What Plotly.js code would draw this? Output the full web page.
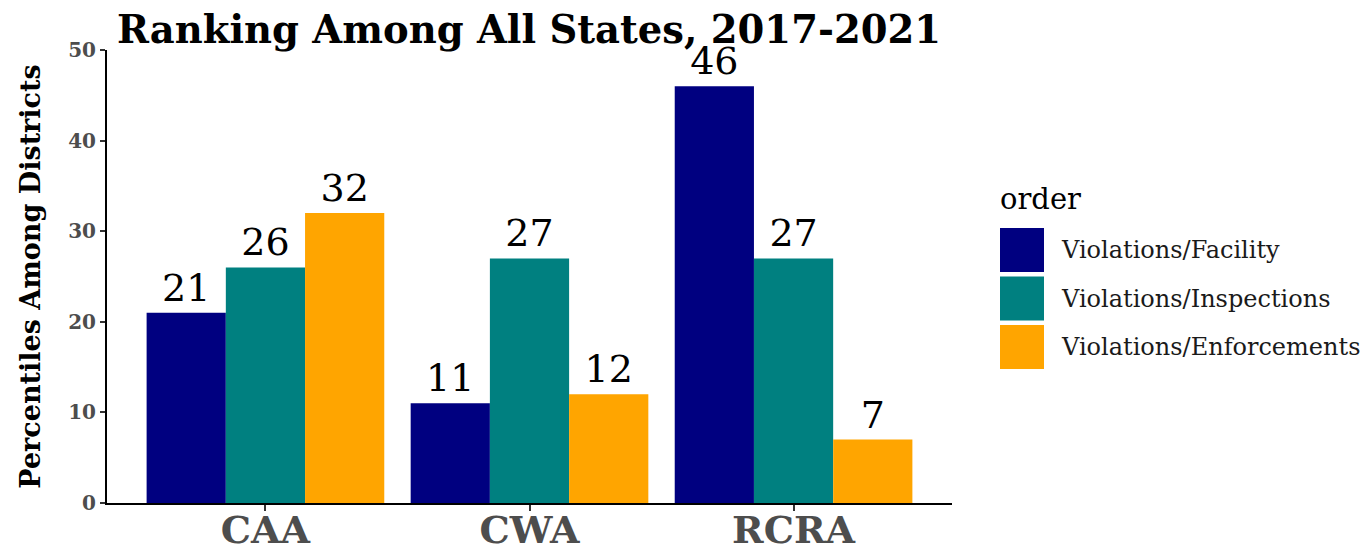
<!DOCTYPE html>
<html>
<head>
<meta charset="utf-8">
<script src="https://cdn.plot.ly/plotly-3.0.1.min.js"></script>
<style>body{margin:0;padding:0;background:#fff;} #chart{width:1369px;height:546px;}</style>
</head>
<body>
<div id="chart"></div>
<script>
const categories = ["CAA", "CWA", "RCRA"];
const seriesNames = ["Violations/Facility", "Violations/Inspections", "Violations/Enforcements"];
const facility = [21, 11, 46];
const inspections = [26, 27, 27];
const enforcements = [32, 12, 7];
const colors = ["#000080", "#008080", "#FFA500"];
const yTicks = [0, 10, 20, 30, 40, 50];

const W = 1369, H = 546;
const L = 107, R = 952, T = 50, B = 503;
const px2x = p => (p - L) / (R - L);
const py2y = p => (B - p) / (B - T);

const values = [facility, inspections, enforcements];
const traces = seriesNames.map((name, i) => ({
  type: "bar",
  name: name,
  x: categories,
  y: values[i],
  marker: {color: colors[i], line: {width: 0}},
  text: values[i].map(String),
  textposition: "outside",
  cliponaxis: false,
  textfont: {family: "DejaVu Serif", size: 38, color: "#000000"},
  showlegend: false,
  hoverinfo: "skip"
}));

const shapes = [];
const annotations = [];
annotations.push({
  xref: "paper", yref: "paper", x: px2x(998), y: py2y(199),
  xanchor: "left", yanchor: "middle", showarrow: false,
  text: "order", font: {family: "DejaVu Serif", size: 29, color: "#000000"}
});
seriesNames.forEach((name, i) => {
  const top = 228 + i * 48.5;
  shapes.push({
    type: "rect", xref: "paper", yref: "paper",
    x0: px2x(1000), x1: px2x(1044), y0: py2y(top), y1: py2y(top + 44),
    fillcolor: colors[i], line: {width: 0}
  });
  annotations.push({
    xref: "paper", yref: "paper", x: px2x(1059), y: py2y(top + 22),
    xanchor: "left", yanchor: "middle", showarrow: false,
    text: name, font: {family: "DejaVu Serif", size: 24, color: "#1a1a1a"}
  });
});

const layout = {
  width: W, height: H,
  margin: {l: L, r: W - R, t: T, b: H - B, pad: 0},
  paper_bgcolor: "#ffffff", plot_bgcolor: "#ffffff",
  title: {
    text: "<b>Ranking Among All States, 2017-2021</b>",
    font: {family: "DejaVu Serif", size: 38.5, color: "#000000"},
    x: 529 / W, xanchor: "center",
    y: 1 - 30 / H, yanchor: "middle"
  },
  barmode: "group",
  bargap: 0.1,
  bargroupgap: 0,
  showlegend: false,
  xaxis: {
    type: "category",
    range: [-0.6, 2.6],
    showline: true, linecolor: "#000000", linewidth: 2,
    ticks: "outside", ticklen: 6, tickwidth: 2, tickcolor: "#333333",
    ticklabelstandoff: -14,
    showgrid: false, zeroline: false,
    tickfont: {family: "DejaVu Serif", size: 38, color: "#4d4d4d", weight: "bold"},
    fixedrange: true
  },
  yaxis: {
    range: [0, 50],
    tickvals: yTicks,
    ticktext: yTicks.map(v => "<b>" + v + "</b>"),
    showline: true, linecolor: "#000000", linewidth: 2,
    ticks: "outside", ticklen: 5, tickwidth: 2, tickcolor: "#333333",
    showgrid: false, zeroline: false,
    tickfont: {family: "DejaVu Serif", size: 20, color: "#4d4d4d"},
    title: {text: "<b>Percentiles Among Districts</b>", font: {family: "DejaVu Serif", size: 27, color: "#000000"}, standoff: 20},
    fixedrange: true
  },
  shapes: shapes,
  annotations: annotations
};

Plotly.newPlot("chart", traces, layout, {displayModeBar: false, staticPlot: true});
</script>
</body>
</html>
